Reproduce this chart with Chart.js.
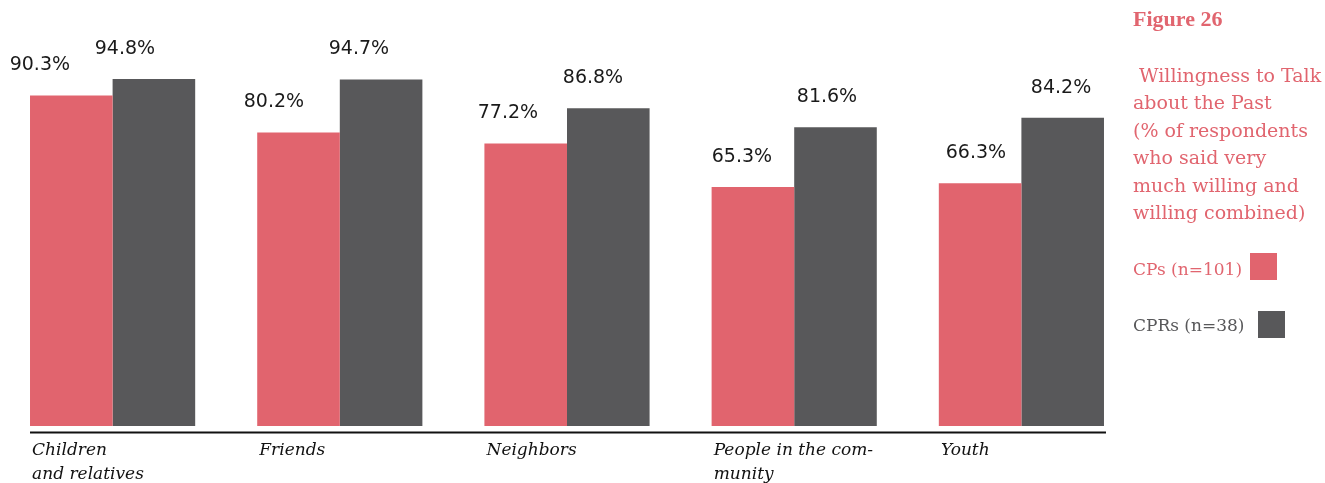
<!DOCTYPE html>
<html>
<head>
<meta charset="utf-8">
<script src="https://cdn.jsdelivr.net/npm/chart.js@4.4.1/dist/chart.umd.min.js"></script>
<style>
  html, body { margin: 0; padding: 0; background: #fff; }
  body { width: 1325px; height: 483px; position: relative; overflow: hidden; }
  #wrap { position: absolute; left: -1px; top: 0; width: 1136px; height: 483px; }
  .side { position: absolute; font-family: "DejaVu Serif", serif; font-size: 19px; line-height: 27.6px; color: #e1656f; white-space: pre; }
  .fig { font-family: "Liberation Serif", serif; font-weight: bold; font-size: 22px; line-height: 26px; }
  .leg { font-size: 17px; }
  .box { position: absolute; width: 27px; height: 27px; }
</style>
</head>
<body>
<div id="wrap"><canvas id="c" width="1136" height="483"></canvas></div>
<div class="side fig" style="left:1133px; top:5.5px;">Figure 26</div>
<div class="side" style="left:1133px; top:61.5px;"> Willingness to Talk
about the Past
(% of respondents
who said very
much willing and
willing combined)</div>
<div class="side leg" style="left:1133px; top:255.5px;">CPs (n=101)</div>
<div class="box" style="left:1250px; top:253px; background:#e1646e;"></div>
<div class="side leg" style="left:1133px; top:311.5px; color:#58585a;">CPRs (n=38)</div>
<div class="box" style="left:1258px; top:311px; background:#58585a;"></div>
<script>
const categories = [
  ["Children", "and relatives"],
  ["Friends"],
  ["Neighbors"],
  ["People in the com-", "munity"],
  ["Youth"]
];
const seriesNames = ["CPs (n=101)", "CPRs (n=38)"];
const cpsValues = [90.3, 80.2, 77.2, 65.3, 66.3];
const cprsValues = [94.8, 94.7, 86.8, 81.6, 84.2];
const seriesColors = ["#e1646e", "#58585a"];

const valueLabels = {
  id: "valueLabels",
  afterDatasetsDraw(chart) {
    const ctx = chart.ctx;
    ctx.save();
    ctx.font = '19px "DejaVu Sans", sans-serif';
    ctx.fillStyle = "#1a1a1a";
    ctx.textAlign = "center";
    ctx.textBaseline = "middle";
    chart.data.datasets.forEach((ds, di) => {
      const meta = chart.getDatasetMeta(di);
      meta.data.forEach((el, i) => {
        const x = el.x * 1.03 - 33.6;
        ctx.fillText(ds.data[i].toFixed(1) + "%", x, el.y - 30);
      });
    });
    ctx.restore();
  }
};

const axisLine = {
  id: "axisLine",
  afterDatasetsDraw(chart) {
    const m0 = chart.getDatasetMeta(0).data;
    const m1 = chart.getDatasetMeta(chart.data.datasets.length - 1).data;
    const x0 = m0[0].x - m0[0].width / 2;
    const x1 = m1[m1.length - 1].x + m1[m1.length - 1].width / 2;
    const y = chart.chartArea.bottom + 6.5;
    const ctx = chart.ctx;
    ctx.save();
    ctx.strokeStyle = "#111";
    ctx.lineWidth = 2;
    ctx.beginPath();
    ctx.moveTo(x0, y);
    ctx.lineTo(x1 + 2, y);
    ctx.stroke();
    ctx.restore();
  }
};

new Chart(document.getElementById("c"), {
  type: "bar",
  data: {
    labels: categories,
    datasets: [
      { label: seriesNames[0], data: cpsValues, backgroundColor: seriesColors[0] },
      { label: seriesNames[1], data: cprsValues, backgroundColor: seriesColors[1] }
    ]
  },
  options: {
    responsive: false,
    devicePixelRatio: 1,
    animation: false,
    layout: { padding: { top: 60, left: 0, right: 0, bottom: 0 } },
    datasets: { bar: { categoryPercentage: 0.727, barPercentage: 1.0 } },
    plugins: { legend: { display: false }, tooltip: { enabled: false } },
    scales: {
      y: { display: false, min: 0, max: 100 },
      x: {
        grid: { display: false, drawTicks: false },
        border: { display: false },
        afterFit: (s) => { s.height = 57; },
        ticks: {
          align: "start",
          labelOffset: -80.5,
          padding: 13,
          maxRotation: 0,
          autoSkip: false,
          color: "#111",
          font: { family: '"DejaVu Serif", serif', style: "italic", size: 17, lineHeight: 1.41 }
        }
      }
    }
  },
  plugins: [valueLabels, axisLine]
});
</script>
</body>
</html>
